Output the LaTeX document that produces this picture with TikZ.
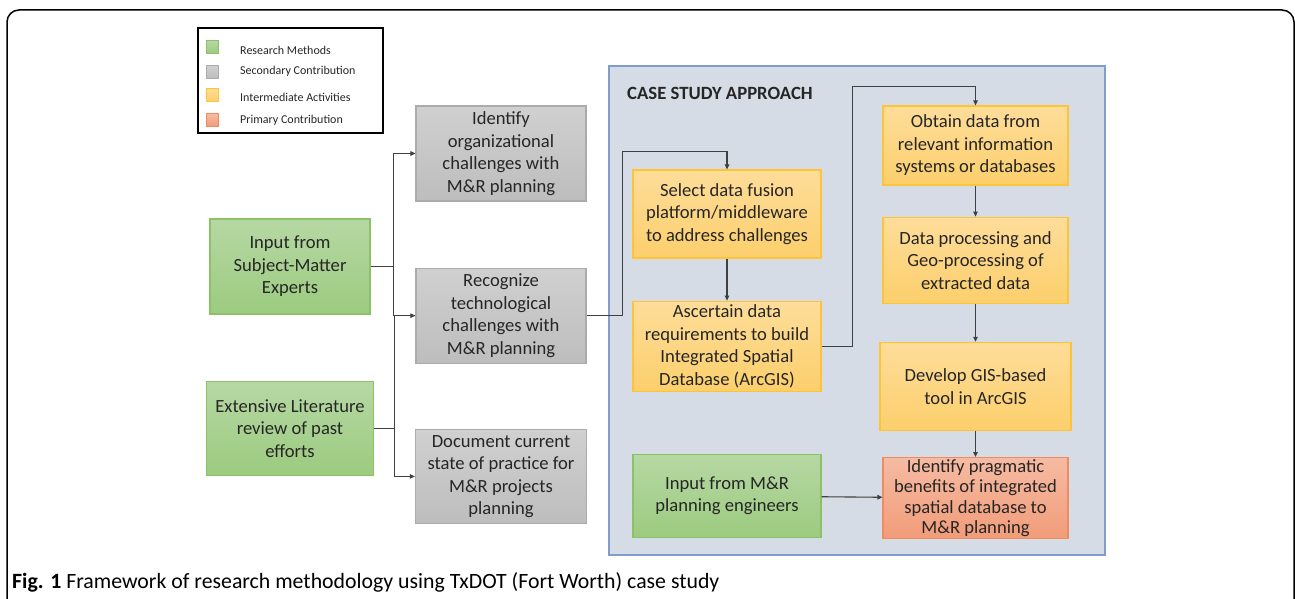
\documentclass[tikz,border=0pt]{standalone}
\usepackage{fontspec}
\setmainfont{Carlito}
\usetikzlibrary{arrows.meta,positioning}

\definecolor{greenTop}{HTML}{B6D8A4}
\definecolor{greenBot}{HTML}{9CCB7F}
\definecolor{greenLine}{HTML}{8CC168}
\definecolor{grayTop}{HTML}{D0D0D0}
\definecolor{grayBot}{HTML}{BDBDBD}
\definecolor{grayLine}{HTML}{ABABAB}
\definecolor{yellowTop}{HTML}{FEDD9A}
\definecolor{yellowBot}{HTML}{FCCF6C}
\definecolor{yellowLine}{HTML}{FCC436}
\definecolor{orangeTop}{HTML}{F6BBA3}
\definecolor{orangeBot}{HTML}{F19C79}
\definecolor{orangeLine}{HTML}{EF8B5E}
\definecolor{caseFill}{HTML}{D6DCE5}
\definecolor{caseLine}{HTML}{7F9FCA}

\begin{document}
\begin{tikzpicture}
  [x=1pt,y=-1pt,
  >={Triangle[length=5pt,width=4.5pt]},
  box/.style={rectangle,inner sep=0pt,align=center,text=black!85,line width=1.2pt,font=\fontsize{18.6}{22.5}\selectfont},
  method/.style={box,draw=greenLine,top color=greenTop,bottom color=greenBot},
  second/.style={box,draw=grayLine,top color=grayTop,bottom color=grayBot},
  interm/.style={box,draw=yellowLine,top color=yellowTop,bottom color=yellowBot},
  primary/.style={box,draw=orangeLine,top color=orangeTop,bottom color=orangeBot},
  key/.style={minimum width=12pt,minimum height=13pt,line width=0.6pt},
  keytext/.style={anchor=west,inner sep=0pt,text=black!85,font=\fontsize{12}{14}\selectfont},
  link/.style={draw=black!75,line width=1.1pt}]

\useasboundingbox (0,0) rectangle (1295,599);

% frame and caption
\draw [line width=1.5pt,rounded corners=12pt] (7,604) -- (7,10) -- (1294,10) -- (1294,604);
\node[anchor=base west,inner sep=0pt,font=\fontsize{21.8}{24}\selectfont] (caption) at (12,588)
  {\textbf{Fig. 1} Framework of research methodology using TxDOT (Fort Worth) case study};

% legend
\node[draw,line width=2pt,minimum width=185pt,minimum height=105pt,inner sep=0pt] (legend) at (290.5,80.5) {};
\node[method,key] (key-method) at (212.5,47) {};
\node[second,key] (key-second) at (212.5,72) {};
\node[interm,key] (key-interm) at (212.5,95) {};
\node[primary,key] (key-primary) at (212.5,120) {};
\node[keytext] (txt-method) at (240,50) {Research Methods};
\node[keytext] (txt-second) at (240,71.5) {Secondary Contribution};
\node[keytext] (txt-interm) at (240,97) {Intermediate Activities};
\node[keytext] (txt-primary) at (240,120) {Primary Contribution};

% research methods and secondary contributions
\node[method,minimum width=160pt,minimum height=95pt] (sme-input) at (290,266.5) {Input from\\Subject-Matter\\Experts};
\node[method,minimum width=167pt,minimum height=94pt] (lit-review) [below=66pt of sme-input] {Extensive Literature\\review of past\\efforts};
\node[second,minimum width=170pt,minimum height=95pt] (org-chall) at (501,153.5) {Identify\\organizational\\challenges with\\M\&R planning};
\node[second,minimum width=170pt,minimum height=95pt] (tech-chall) [below=66pt of org-chall] {Recognize\\technological\\challenges with\\M\&R planning};
\node[second,minimum width=171pt,minimum height=94pt] (doc-state) [below=65pt of tech-chall] {Document current\\state of practice for\\M\&R projects\\planning};

\draw [link,->] (sme-input.east) -- ++(23,0) |- (org-chall.west);
\draw [link,->] (sme-input.east) -- ++(23,0) |- (tech-chall.west);
\draw [link,->] (lit-review.east) -- ++(20,0) |- (doc-state.west);
\draw [link] (lit-review.east) -- ++(20,0) |- (tech-chall.west);

% case study approach
\node[draw=caseLine,fill=caseFill,line width=1.2pt,minimum width=496pt,minimum height=489pt,inner sep=0pt] (case-box) at (857,310.5) {};
\node[anchor=west,inner sep=0pt,text=black!85,font=\bfseries\fontsize{18.7}{20}\selectfont] (case-title) at (627,93) {CASE STUDY APPROACH};

\node[interm,minimum width=188pt,minimum height=88pt] (select) at (727,214) {Select data fusion\\platform/middleware\\to address challenges};
\node[interm,minimum width=188pt,minimum height=90pt] (ascertain) [below=42pt of select] {Ascertain data\\requirements to build\\Integrated Spatial\\Database (ArcGIS)};
\node[method,minimum width=188pt,minimum height=83pt] (mr-input) [below=62pt of ascertain] {Input from M\&R\\planning engineers};
\node[interm,minimum width=185pt,minimum height=79pt] (obtain) at (975.5,145.5) {Obtain data from\\relevant information\\systems or databases};
\node[interm,minimum width=185pt,minimum height=86pt] (processing) [below=31pt of obtain] {Data processing and\\Geo-processing of\\extracted data};
\node[interm,minimum width=191pt,minimum height=88pt] (gis-tool) [below=38pt of processing] {Develop GIS-based\\tool in ArcGIS};
\node[primary,minimum width=185pt,minimum height=81pt,font=\fontsize{18.6}{20.5}\selectfont] (benefits) [below=26pt of gis-tool] {Identify pragmatic\\benefits of integrated\\spatial database to\\M\&R planning};

\draw [link,->] (tech-chall.east) -- ++(36,0) |- ([yshift=18pt]select.north) -- (select.north);
\draw [link,->] (select) -- (ascertain);
\draw [link,->] (ascertain.east) -- ++(31,0) |- ([yshift=19pt]obtain.north) -- (obtain.north);
\draw [link,->] (obtain) -- (processing);
\draw [link,->] (processing) -- (gis-tool);
\draw [link,->] (gis-tool) -- (benefits);
\draw [link,->] (mr-input) -- (benefits);

\end{tikzpicture}
\end{document}
